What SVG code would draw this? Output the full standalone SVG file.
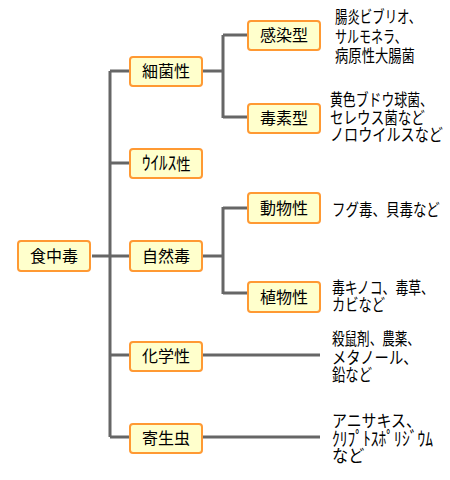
<svg xmlns="http://www.w3.org/2000/svg" width="450" height="480" viewBox="0 0 450 480">
<style>
.box{fill:#FFFFCC;stroke:#FF9933;stroke-width:2}
.bt{font-family:"Noto Sans CJK JP","Noto Sans CJK SC",sans-serif;font-size:16px;fill:#000;text-anchor:middle}
.nt{font-family:"Noto Sans CJK JP","Noto Sans CJK SC",sans-serif;font-size:17px;fill:#000}
.hw{font-size:19px}
.ln{stroke:#666666;stroke-width:3;fill:none}
</style>
<rect width="450" height="480" fill="#fff"/>
<g id="connectors">
<path class="ln" d="M92 256H110M110 71V437M110 71H130M110 163H130M110 256H130M110 355H130M110 437H130"/>
<path class="ln" d="M202 71H223M223 35V118M223 35H248M223 117H248"/>
<path class="ln" d="M202 256H223M223 207V294M223 208H248M223 293H248"/>
<path class="ln" d="M202 355H320M202 437H320"/>
</g>
<g id="n-food"><rect class="box" x="18" y="241" width="72" height="30" rx="3"/><text class="bt" x="54" y="262">食中毒</text></g>
<g id="n-bacteria"><rect class="box" x="130" y="57" width="72" height="29" rx="3"/><text class="bt" x="166" y="77">細菌性</text></g>
<g id="n-virus"><rect class="box" x="130" y="149" width="72" height="29" rx="3"/><text class="nt" transform="translate(142 170) scale(0.9 1)"><tspan class="hw">ｳｲﾙｽ</tspan><tspan font-size="16">性</tspan></text></g>
<g id="n-natural"><rect class="box" x="130" y="241" width="72" height="30" rx="3"/><text class="bt" x="166" y="262">自然毒</text></g>
<g id="n-chemical"><rect class="box" x="130" y="342" width="72" height="29" rx="3"/><text class="bt" x="166" y="362">化学性</text></g>
<g id="n-parasite"><rect class="box" x="130" y="424" width="72" height="29" rx="3"/><text class="bt" x="166" y="444">寄生虫</text></g>
<g id="n-infection"><rect class="box" x="248" y="21" width="72" height="29" rx="3"/><text class="bt" x="284" y="41">感染型</text></g>
<g id="n-toxin"><rect class="box" x="248" y="104" width="72" height="29" rx="3"/><text class="bt" x="284" y="124">毒素型</text></g>
<g id="n-animal"><rect class="box" x="248" y="193" width="72" height="30" rx="3"/><text class="bt" x="284" y="214">動物性</text></g>
<g id="n-plant"><rect class="box" x="248" y="282" width="72" height="30" rx="3"/><text class="bt" x="284" y="303">植物性</text></g>
<g id="notes">
<text class="nt" transform="translate(335 23) scale(0.731 1)">腸炎ビブリオ、</text>
<text class="nt" transform="translate(335 43) scale(0.706 1)">サルモネラ、</text>
<text class="nt" transform="translate(335 62) scale(0.784 1)">病原性大腸菌</text>
<text class="nt" transform="translate(330 106) scale(0.757 1)">黄色ブドウ球菌、</text>
<text class="nt" transform="translate(330 124) scale(0.798 1)">セレウス菌など</text>
<text class="nt" transform="translate(330 141) scale(0.831 1)">ノロウイルスなど</text>
<text class="nt" transform="translate(332 216) scale(0.794 1)">フグ毒、貝毒など</text>
<text class="nt" transform="translate(332 294) scale(0.757 1)">毒キノコ、毒草、</text>
<text class="nt" transform="translate(332 311) scale(0.779 1)">カビなど</text>
<text class="nt" transform="translate(332 345) scale(0.739 1)">殺鼠剤、農薬、</text>
<text class="nt" transform="translate(332 364) scale(0.843 1)">メタノール、</text>
<text class="nt" transform="translate(332 381) scale(0.784 1)">鉛など</text>
<text class="nt" transform="translate(332 427) scale(0.88 1)">アニサキス、</text>
<text class="nt hw" transform="translate(332 446) scale(0.818 1)">ｸﾘﾌﾟﾄｽﾎﾟﾘｼﾞｳﾑ</text>
<text class="nt" transform="translate(332 462) scale(0.95 1)">など</text>
</g>
</svg>
